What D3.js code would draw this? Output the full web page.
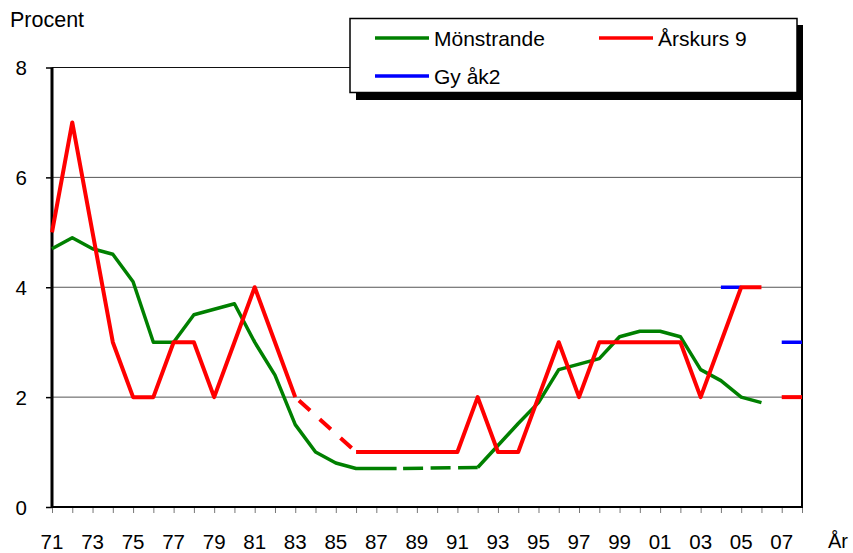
<!DOCTYPE html>
<html>
<head>
<meta charset="utf-8">
<script src="https://cdn.jsdelivr.net/npm/d3@7/dist/d3.min.js"></script>
<style>
  body { margin: 0; background: #fff; }
  svg text { font-family: "Liberation Sans", Arial, Helvetica, sans-serif; fill: #000; }
</style>
</head>
<body>
<svg id="chart" width="853" height="553"></svg>
<script>
// Survey years for the main series
const years = [1971, 1972, 1973, 1974, 1975, 1976, 1977, 1978, 1979, 1980,
               1981, 1982, 1983, 1984, 1985, 1986, 1987, 1988, 1989, 1990,
               1991, 1992, 1993, 1994, 1995, 1996, 1997, 1998, 1999, 2000,
               2001, 2002, 2003, 2004, 2005, 2006];

// Mönstrande (conscripts), percent; null = no survey that year
const monstrande = [4.7, 4.9, 4.7, 4.6, 4.1, 3.0, 3.0, 3.5, 3.6, 3.7,
                    3.0, 2.4, 1.5, 1.0, 0.8, 0.7, 0.7, 0.7, null, null,
                    null, 0.72, 1.12, 1.52, 1.9, 2.5, 2.6, 2.7, 3.1, 3.2,
                    3.2, 3.1, 2.5, 2.3, 2.0, 1.9];

// Årskurs 9, percent
const arskurs9 = [5, 7, 5, 3, 2, 2, 3, 3, 2, 3,
                  4, 3, 2, null, null, 1, 1, 1, 1, 1,
                  1, 2, 1, 1, 2, 3, 2, 3, 3, 3,
                  3, 3, 2, 3, 4, 4];

// Årskurs 9, later survey series
const arskurs9LaterYears = [2007, 2008];
const arskurs9Later = [2, 2];

// Gy åk2, percent
const gyYears = [2004, 2005, 2006, 2007, 2008];
const gyAk2 = [4, 4, null, 3, 3];

// Axis definitions
const axisYears = [1971, 1972, 1973, 1974, 1975, 1976, 1977, 1978, 1979, 1980,
                   1981, 1982, 1983, 1984, 1985, 1986, 1987, 1988, 1989, 1990,
                   1991, 1992, 1993, 1994, 1995, 1996, 1997, 1998, 1999, 2000,
                   2001, 2002, 2003, 2004, 2005, 2006, 2007, 2008];
const xLabelYears = [1971, 1973, 1975, 1977, 1979, 1981, 1983, 1985, 1987, 1989,
                     1991, 1993, 1995, 1997, 1999, 2001, 2003, 2005, 2007];
const xLabels = ["71", "73", "75", "77", "79", "81", "83", "85", "87", "89",
                 "91", "93", "95", "97", "99", "01", "03", "05", "07"];
const yTicks = [0, 2, 4, 6, 8];

const svg = d3.select("#chart");
const plotLeft = 52, plotRight = 802, plotTop = 67.5, plotBottom = 507;

const x = d3.scaleLinear().domain([1971, 2008]).range([plotLeft, plotRight]);
const y = d3.scaleLinear().domain([0, 8]).range([plotBottom, plotTop]);

// Horizontal gridlines
svg.append("g")
  .selectAll("line")
  .data(yTicks.filter(v => v > 0))
  .join("line")
  .attr("x1", plotLeft).attr("x2", plotRight)
  .attr("y1", d => y(d)).attr("y2", d => y(d))
  .attr("stroke", d => d === 8 ? "#111" : "#555")
  .attr("stroke-width", 1);

// X tick marks for every year
const xAxis = svg.append("g")
  .attr("transform", `translate(0,${plotBottom})`)
  .call(d3.axisBottom(x).tickValues(axisYears).tickSize(6).tickFormat(""));
xAxis.select(".domain").remove();
xAxis.selectAll(".tick line").attr("stroke", "#777").attr("stroke-width", 1);

// X labels (every second year)
svg.append("g")
  .selectAll("text")
  .data(xLabelYears)
  .join("text")
  .attr("x", d => x(d))
  .attr("y", 549)
  .attr("text-anchor", "middle")
  .style("font-size", "20.5px")
  .text((d, i) => xLabels[i]);

svg.append("text")
  .attr("x", 828).attr("y", 548)
  .style("font-size", "20px")
  .text("År");

// Y axis with ticks and labels
const yAxis = svg.append("g")
  .attr("transform", `translate(${plotLeft},0)`)
  .call(d3.axisLeft(y).tickValues(yTicks).tickSize(6).tickPadding(19).tickFormat(d3.format("d")));
yAxis.select(".domain").remove();
yAxis.selectAll(".tick line").attr("stroke", "#000").attr("stroke-width", 1.5);
yAxis.selectAll(".tick text")
  .style("font-size", "20.5px")
  .attr("font-family", null)
  .attr("dy", "0.36em");

svg.append("text")
  .attr("x", 10).attr("y", 27)
  .style("font-size", "21.5px")
  .text("Procent");

// Plot frame: bottom axis, left axis, right border
svg.append("line")
  .attr("x1", plotLeft).attr("x2", plotRight + 1)
  .attr("y1", plotBottom).attr("y2", plotBottom)
  .attr("stroke", "#000").attr("stroke-width", 2);
svg.append("line")
  .attr("x1", plotRight).attr("x2", plotRight)
  .attr("y1", plotTop).attr("y2", plotBottom)
  .attr("stroke", "#000").attr("stroke-width", 2);
svg.append("line")
  .attr("x1", plotLeft).attr("x2", plotLeft)
  .attr("y1", plotTop).attr("y2", plotBottom + 1)
  .attr("stroke", "#000").attr("stroke-width", 3);

// Series drawing
function toPoints(xs, vs) {
  return xs.map((yr, i) => ({ year: yr, value: vs[i] }));
}

const line = d3.line()
  .defined(d => d.value != null)
  .x(d => x(d.year))
  .y(d => y(d.value));

// Dashed bridges over missing survey years
function bridges(points) {
  const out = [];
  for (let i = 0; i < points.length; i++) {
    if (points[i].value != null && i + 1 < points.length && points[i + 1].value == null) {
      let j = i + 1;
      while (j < points.length && points[j].value == null) j++;
      if (j < points.length) out.push([points[i], points[j]]);
    }
  }
  return out;
}

const plot = svg.append("g");

function drawSeries(points, color, width, dash, bridge) {
  plot.append("path")
    .datum(points)
    .attr("fill", "none")
    .attr("stroke", color)
    .attr("stroke-width", width)
    .attr("stroke-linejoin", "round")
    .attr("d", line);
  if (bridge) {
    bridges(points).forEach(seg => {
      plot.append("path")
        .datum(seg)
        .attr("fill", "none")
        .attr("stroke", color)
        .attr("stroke-width", width)
        .attr("stroke-dasharray", dash.array)
        .attr("stroke-dashoffset", dash.offset)
        .attr("d", line);
    });
  }
}

const GREEN = "#008000", RED = "#ff0000", BLUE = "#0000ff";

drawSeries(toPoints(gyYears, gyAk2), BLUE, 3.5, null, false);
drawSeries(toPoints(years, monstrande), GREEN, 3.5, { array: "20 7.5", offset: 21 }, true);
drawSeries(toPoints(years, arskurs9), RED, 4, { array: "15 13", offset: 23 }, true);
drawSeries(toPoints(arskurs9LaterYears, arskurs9Later), RED, 4, null, false);

// Legend with drop shadow
const legend = svg.append("g");
legend.append("rect")
  .attr("x", 356).attr("y", 25).attr("width", 447).attr("height", 75)
  .attr("fill", "#000");
legend.append("rect")
  .attr("x", 350).attr("y", 18.5).attr("width", 447).attr("height", 74)
  .attr("fill", "#fff").attr("stroke", "#000").attr("stroke-width", 1.5);

const legendItems = [
  { name: "Mönstrande", color: GREEN, lx: 375, ly: 38 },
  { name: "Årskurs 9", color: RED, lx: 599, ly: 38 },
  { name: "Gy åk2", color: BLUE, lx: 375, ly: 76 }
];
legendItems.forEach(it => {
  legend.append("line")
    .attr("x1", it.lx).attr("x2", it.lx + 54)
    .attr("y1", it.ly).attr("y2", it.ly)
    .attr("stroke", it.color).attr("stroke-width", 3.5);
  legend.append("text")
    .attr("x", it.lx + 59).attr("y", it.ly + 7.5)
    .style("font-size", "21px")
    .text(it.name);
});
</script>
</body>
</html>
